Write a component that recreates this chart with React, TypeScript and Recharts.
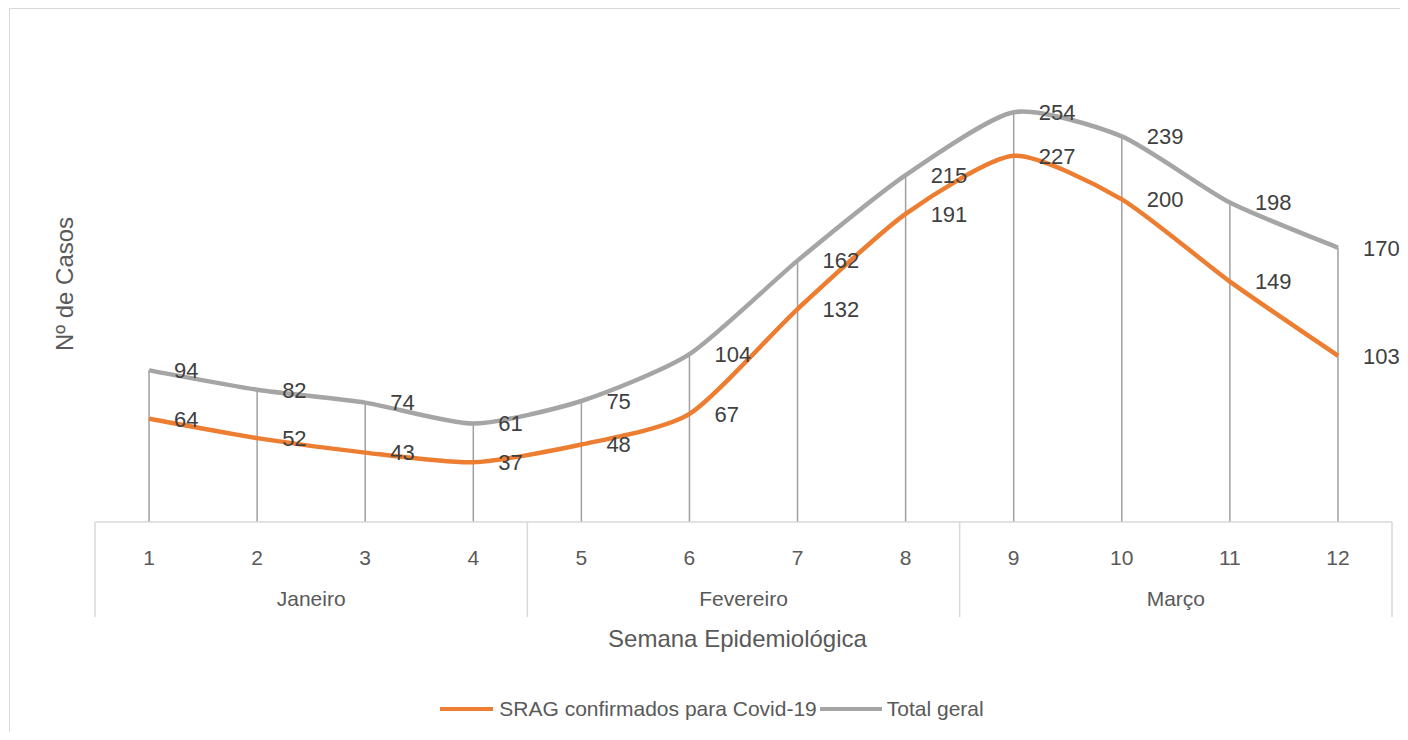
import React from 'react';
import {
  LineChart,
  Line,
  XAxis,
  YAxis,
  CartesianGrid,
  ReferenceLine,
  LabelList,
  Legend,
} from 'recharts';

const weeks = [1, 2, 3, 4, 5, 6, 7, 8, 9, 10, 11, 12];
const sragCovid = [64, 52, 43, 37, 48, 67, 132, 191, 227, 200, 149, 103];
const totalGeral = [94, 82, 74, 61, 75, 104, 162, 215, 254, 239, 198, 170];
const months = ['Janeiro', 'Fevereiro', 'Março'];
const weeksPerMonth = 4;
const yTicks = [0, 50, 100, 150, 200, 250, 300];

const seriesNames = ['SRAG confirmados para Covid-19', 'Total geral'];
const ORANGE = '#ED7D31';
const GRAY = '#A5A5A5';
const GRID = '#D9D9D9';
const TEXT = '#404040';
const TICK = '#595959';
const FONT = "'Liberation Sans', Arial, sans-serif";

const data = weeks.map((w, i) => ({ week: w, srag: sragCovid[i], total: totalGeral[i] }));

// month axis ticks: boundaries and centers
const monthTicks: number[] = [];
months.forEach((_, i) => {
  monthTicks.push(i * weeksPerMonth + 0.5);
  monthTicks.push(i * weeksPerMonth + weeksPerMonth / 2 + 0.5);
});
monthTicks.push(months.length * weeksPerMonth + 0.5);

// Excel-like smoothed line (low-tension Bezier)
const TENSION = 0.11;
const excelSmooth: any = (context: any) => {
  let pts: number[][] = [];
  return {
    areaStart() {},
    areaEnd() {},
    lineStart() {
      pts = [];
    },
    point(x: number, y: number) {
      pts.push([+x, +y]);
    },
    lineEnd() {
      if (!pts.length) return;
      context.moveTo(pts[0][0], pts[0][1]);
      for (let i = 0; i < pts.length - 1; i++) {
        const p0 = pts[i - 1] || pts[i];
        const p1 = pts[i];
        const p2 = pts[i + 1];
        const p3 = pts[i + 2] || p2;
        const c1x = p1[0] + (p2[0] - p0[0]) * TENSION;
        const c1y = p1[1] + (p2[1] - p0[1]) * TENSION;
        const c2x = p2[0] - (p3[0] - p1[0]) * TENSION;
        const c2y = p2[1] - (p3[1] - p1[1]) * TENSION;
        context.bezierCurveTo(c1x, c1y, c2x, c2y, p2[0], p2[1]);
      }
    },
  };
};

const WeekTick = (props: any) => {
  const { x, y, payload } = props;
  return (
    <text x={x} y={y + 35} textAnchor="middle" dominantBaseline="central" fill={TICK} fontSize={21}>
      {payload.value}
    </text>
  );
};

const MonthTick = (props: any) => {
  const { x, y, payload } = props;
  const v = payload.value as number;
  const isBoundary = Math.abs((v - 0.5) % weeksPerMonth) < 1e-6;
  if (isBoundary) {
    return <line x1={x} x2={x} y1={y - 55} y2={y + 40} stroke={GRID} strokeWidth={1.5} />;
  }
  const idx = Math.floor((v - 0.5) / weeksPerMonth);
  return (
    <text x={x} y={y + 21} textAnchor="middle" dominantBaseline="central" fill={TICK} fontSize={21}>
      {months[idx]}
    </text>
  );
};

const renderXTitle = (props: any) => {
  const vb = props.viewBox || {};
  return (
    <text
      x={vb.x + vb.width / 2 - 6}
      y={vb.y + 61}
      textAnchor="middle"
      dominantBaseline="central"
      fill={TICK}
      fontSize={24}
    >
      Semana Epidemiológica
    </text>
  );
};

const renderYTitle = (props: any) => {
  const vb = props.viewBox || {};
  const cx = 56;
  const cy = vb.y + vb.height / 2 + 4;
  return (
    <text
      x={cx}
      y={cy}
      transform={`rotate(-90, ${cx}, ${cy})`}
      textAnchor="middle"
      dominantBaseline="central"
      fill={TICK}
      fontSize={24}
    >
      Nº de Casos
    </text>
  );
};

const LegendContent = () => (
  <div
    style={{
      display: 'flex',
      justifyContent: 'center',
      alignItems: 'center',
      height: 30,
      paddingLeft: 16,
      fontSize: 21,
      color: TICK,
      fontFamily: FONT,
    }}
  >
    <span style={{ display: 'inline-block', width: 53, height: 4, background: ORANGE, marginRight: 6 }} />
    <span>{seriesNames[0]}</span>
    <span style={{ display: 'inline-block', width: 62, height: 4, background: GRAY, marginLeft: 3, marginRight: 5 }} />
    <span>{seriesNames[1]}</span>
  </div>
);

export default function App() {
  return (
    <div style={{ width: 1392, height: 724, overflow: 'hidden', position: 'relative', fontFamily: FONT, background: '#fff' }}>
      <div
        style={{
          position: 'absolute',
          left: 1,
          top: 0,
          width: 1500,
          height: 800,
          border: `1px solid ${GRID}`,
          boxSizing: 'border-box',
        }}
      />
      <div style={{ position: 'absolute', left: 0, top: 0 }}>
        <LineChart width={1392} height={724} data={data} margin={{ top: 30, right: 8, left: 0, bottom: 45 }}>
          <CartesianGrid
            xAxisId="a"
            vertical={false}
            stroke={GRID}
            strokeWidth={1.3}
            horizontalValues={yTicks}
          />
          <XAxis
            xAxisId="a"
            dataKey="week"
            type="number"
            domain={[0.5, 12.5]}
            allowDataOverflow
            ticks={weeks}
            interval={0}
            height={55}
            tickLine={false}
            tickSize={0}
            tickMargin={0}
            axisLine={{ stroke: GRID, strokeWidth: 1.5 }}
            tick={<WeekTick />}
          />
          <XAxis
            xAxisId="b"
            dataKey="week"
            type="number"
            domain={[0.5, 12.5]}
            allowDataOverflow
            ticks={monthTicks}
            interval={0}
            height={80}
            tickLine={false}
            tickSize={0}
            tickMargin={0}
            axisLine={false}
            tick={<MonthTick />}
            label={renderXTitle}
          />
          <YAxis
            width={87}
            domain={[0, 300]}
            ticks={yTicks}
            tick={false}
            tickLine={false}
            axisLine={false}
            label={renderYTitle}
          />
          {data.map((d) => (
            <ReferenceLine
              key={d.week}
              xAxisId="a"
              segment={[
                { x: d.week, y: 0 },
                { x: d.week, y: d.total },
              ]}
              stroke="#A0A0A0"
              strokeWidth={1.5}
            />
          ))}
          <Line
            xAxisId="a"
            type={excelSmooth}
            dataKey="srag"
            name={seriesNames[0]}
            stroke={ORANGE}
            strokeWidth={4.5}
            dot={false}
            isAnimationActive={false}
          >
            <LabelList dataKey="srag" position="right" offset={25} fill={TEXT} fontSize={22} />
          </Line>
          <Line
            xAxisId="a"
            type={excelSmooth}
            dataKey="total"
            name={seriesNames[1]}
            stroke={GRAY}
            strokeWidth={4.5}
            dot={false}
            isAnimationActive={false}
          >
            <LabelList dataKey="total" position="right" offset={25} fill={TEXT} fontSize={22} />
          </Line>
          <Legend
            verticalAlign="bottom"
            content={<LegendContent />}
            wrapperStyle={{ top: 686, left: 0, width: 1392, height: 30, bottom: 'auto' }}
          />
        </LineChart>
      </div>
    </div>
  );
}
